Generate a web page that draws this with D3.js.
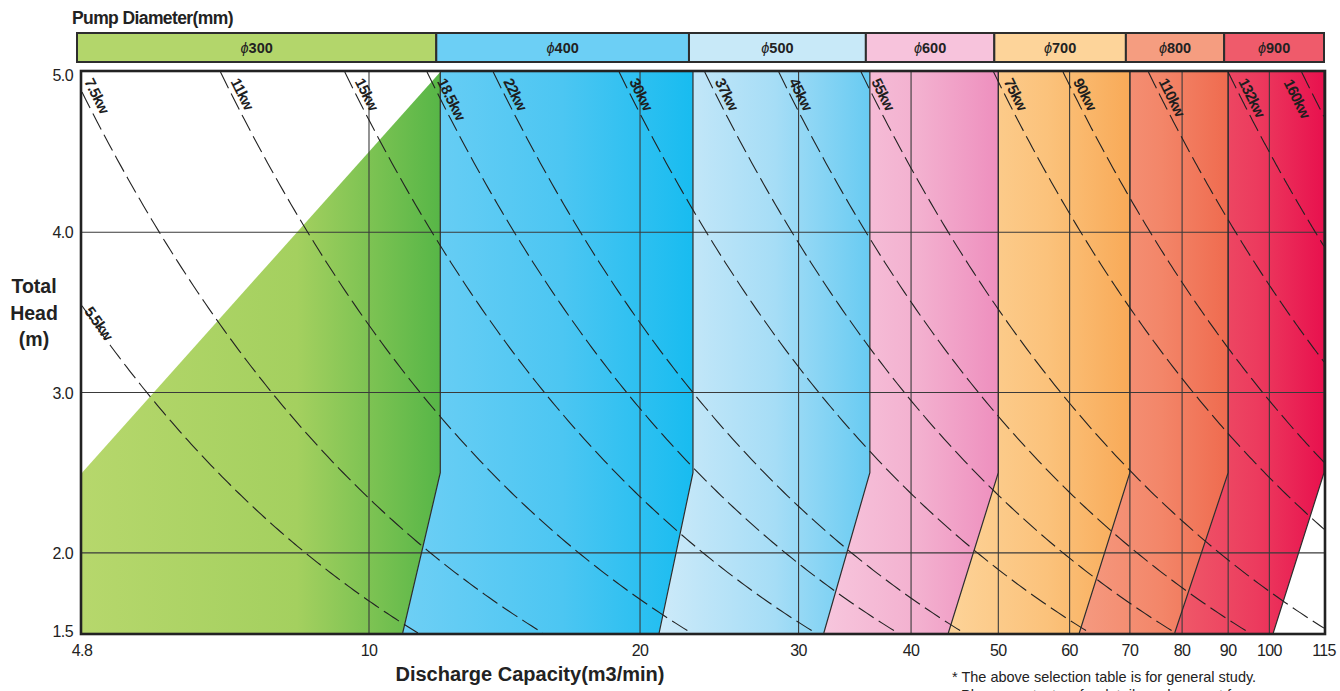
<!DOCTYPE html>
<html>
<head>
<meta charset="utf-8">
<script src="https://cdn.jsdelivr.net/npm/d3@7"></script>
<style>
  html, body { margin: 0; padding: 0; background: #fff; }
  svg { display: block; font-family: "Liberation Sans", Arial, Helvetica, sans-serif; }
</style>
</head>
<body>
<svg id="chart" width="1340" height="691"></svg>
<script>
// ---------------- DATA ----------------
const diameters = ["300", "400", "500", "600", "700", "800", "900"];
// right boundary of each pump range: capacity at head >= 2.5 m (top) and at 1.5 m (bottom)
const boundaryTop    = [12, 22.9, 36, 50, 70, 90, 115];
const boundaryBottom = [10.9, 21, 32, 44, 61.5, 78.5, 101];
const leftEdge = { q: 4.8, hLow: 1.5, hMid: 2.5 };
const kneeHead = 2.5;
const barColors = ["#b3d66b", "#6ccff5", "#c8e9f8", "#f7c3dc", "#fdd49a", "#f59d80", "#ef5b6b"];
const gradLeft  = ["#b6d76c", "#6ecff5", "#cdeaf9", "#f7c6dd", "#fdd398", "#f59a80", "#ef5a69"];
const gradMid   = ["#a4d05f", "#4cc6f2", "#a6ddf6", "#f3b0cf", "#fbc27b", "#f38669", "#ec3b5e"];
const gradRight = ["#57b647", "#18bcf0", "#68cbf2", "#ee8fbe", "#f8aa58", "#ef6b4f", "#e8114e"];
// power lines: label and constant Q*H (m3/min * m)
const powerLabels = ["5.5kw", "7.5kw", "11kw", "15kw", "18.5kw", "22kw", "30kw", "37kw", "45kw", "55kw", "75kw", "90kw", "110kw", "132kw", "160kw"];
const powerQH     = [17.0, 23.4, 34.2, 47.0, 58.0, 68.7, 94.8, 118, 142.6, 176, 247, 295, 367, 450, 543];
const xTicks = [4.8, 10, 20, 30, 40, 50, 60, 70, 80, 90, 100, 115];
const xTickLabels = ["4.8", "10", "20", "30", "40", "50", "60", "70", "80", "90", "100", "115"];
const xGrid = [10, 20, 30, 40, 50, 60, 70, 80, 90, 100];
const yTicks = [1.5, 2.0, 3.0, 4.0, 5.0];
const yTickLabels = ["1.5", "2.0", "3.0", "4.0", "5.0"];
const yGrid = [2, 3, 4];

// ---------------- SCALES ----------------
const svg = d3.select("#chart");
const x = d3.scaleLog().domain([4.8, 115]).range([82, 1324]);
const y = d3.scaleLinear().domain([1.5, 5]).range([633, 72]);
const [x0, x1] = x.range();
const [y1, y0] = y.range();

const defs = svg.append("defs");
defs.append("clipPath").attr("id", "plotClip")
  .append("rect").attr("x", x0).attr("y", y0).attr("width", x1 - x0).attr("height", y1 - y0);

diameters.forEach((d, i) => {
  const g = defs.append("linearGradient").attr("id", "grad" + i)
    .attr("x1", "0%").attr("x2", "100%").attr("y1", "0%").attr("y2", "0%");
  g.append("stop").attr("offset", "0%").attr("stop-color", gradLeft[i]);
  g.append("stop").attr("offset", i === 0 ? "60%" : "55%").attr("stop-color", gradMid[i]);
  g.append("stop").attr("offset", "100%").attr("stop-color", gradRight[i]);
});

// ---------------- REGIONS ----------------
const line = d3.line().x(p => x(p[0])).y(p => y(p[1]));
const regions = diameters.map((d, i) => {
  let left;
  if (i === 0) left = [[leftEdge.q, leftEdge.hLow], [leftEdge.q, leftEdge.hMid], [boundaryTop[0], 5]];
  else left = [[boundaryBottom[i - 1], 1.5], [boundaryTop[i - 1], kneeHead], [boundaryTop[i - 1], 5]];
  const right = [[boundaryTop[i], 5], [boundaryTop[i], kneeHead], [boundaryBottom[i], 1.5]];
  return left.concat(right);
});
const plot = svg.append("g").attr("clip-path", "url(#plotClip)");
plot.selectAll("path.region").data(regions).join("path")
  .attr("class", "region")
  .attr("d", p => line(p) + "Z")
  .attr("fill", (p, i) => `url(#grad${i})`);

// grid
plot.selectAll("line.vg").data(xGrid).join("line")
  .attr("x1", d => x(d)).attr("x2", d => x(d)).attr("y1", y0).attr("y2", y1)
  .attr("stroke", "#3a3a3a").attr("stroke-width", 1.1);
plot.selectAll("line.hg").data(yGrid).join("line")
  .attr("x1", x0).attr("x2", x1).attr("y1", d => y(d)).attr("y2", d => y(d))
  .attr("stroke", "#3a3a3a").attr("stroke-width", 1.1);

// boundaries
plot.selectAll("path.bnd").data(diameters).join("path")
  .attr("d", (d, i) => line([[boundaryTop[i], 5], [boundaryTop[i], kneeHead], [boundaryBottom[i], 1.5]]))
  .attr("fill", "none").attr("stroke", "#2d2d2d").attr("stroke-width", 1.2);

// power curves
const curves = powerQH.map(c => {
  const qStart = Math.max(4.8, c / 5), qEnd = Math.min(115, c / 1.5);
  const pts = d3.range(0, 121).map(k => {
    const q = qStart * Math.pow(qEnd / qStart, k / 120);
    return [q, c / q];
  });
  return pts;
});
plot.selectAll("path.pw").data(curves).join("path")
  .attr("d", line).attr("fill", "none")
  .attr("stroke", "#222").attr("stroke-width", 1.1)
  .attr("stroke-dasharray", "18,6");

// labels
powerQH.forEach((c, i) => {
  let px, py;
  const hLeft = c / 4.8;
  if (hLeft < 4.5) {
    px = x0 + 1; py = y(hLeft) + 6;
  } else {
    py = y0 + 10;
    const hh = y.invert(py);
    px = Math.max(x0 + 1, x(c / hh) + 4);
  }
  const h = y.invert(py);
  const qa = c / h;
  const dxp = x(qa * 1.02) - x(qa), dyp = y(c / (qa * 1.02)) - y(h);
  const ang = Math.atan2(dyp, dxp) * 180 / Math.PI;
  // labels that would run past the right border sit on the left side of their line
  const leftSide = x(qa) > x1 - 40;
  plot.append("text")
    .attr("transform", `translate(${leftSide ? px - 4 : px},${py}) rotate(${ang})`)
    .attr("x", leftSide ? -10 : 0).attr("y", leftSide ? 21 : -1)
    .attr("font-size", 15).attr("font-weight", "bold").attr("fill", "#1e1e1e")
    .attr("letter-spacing", -0.8)
    .text(powerLabels[i]);
});

// plot border
svg.append("rect").attr("x", x0 - 1).attr("y", y0 - 1).attr("width", x1 - x0 + 2).attr("height", y1 - y0 + 2)
  .attr("fill", "none").attr("stroke", "#222").attr("stroke-width", 2.6);

// ---------------- TOP BAR ----------------
const barEdges = [x0 - 5].concat(boundaryTop.map((b, i) => i === boundaryTop.length - 1 ? x(b) : x(b) - 4));
const barG = svg.append("g");
barG.selectAll("rect").data(diameters).join("rect")
  .attr("x", (d, i) => barEdges[i]).attr("y", 33)
  .attr("width", (d, i) => barEdges[i + 1] - barEdges[i]).attr("height", 29)
  .attr("fill", (d, i) => barColors[i]).attr("stroke", "#2d2d2d").attr("stroke-width", 2);
barG.selectAll("text").data(diameters).join("text")
  .attr("x", (d, i) => (barEdges[i] + barEdges[i + 1]) / 2).attr("y", 53)
  .attr("text-anchor", "middle").attr("font-size", 14.5).attr("fill", "#222")
  .attr("font-weight", "bold")
  .each(function (d) {
    const t = d3.select(this);
    t.append("tspan").attr("font-style", "italic").attr("font-weight", "normal").text("ϕ");
    t.append("tspan").text(d);
  });
svg.append("text").attr("x", 72).attr("y", 24)
  .attr("font-size", 17.5).attr("font-weight", "bold").attr("fill", "#222")
  .attr("letter-spacing", -0.6)
  .text("Pump Diameter(mm)");

// ---------------- AXES ----------------
const xAxis = svg.append("g");
xAxis.selectAll("text").data(xTicks).join("text")
  .attr("x", d => x(d)).attr("y", 656).attr("text-anchor", "middle")
  .attr("font-size", 16).attr("fill", "#222").attr("letter-spacing", -0.6)
  .text((d, i) => xTickLabels[i]);
const yAxis = svg.append("g");
yAxis.selectAll("text").data(yTicks).join("text")
  .attr("x", 73).attr("y", d => y(d) + 6 + (d === 5 ? 3 : 0) - (d === 1.5 ? 2 : 0)).attr("text-anchor", "end")
  .attr("font-size", 16).attr("fill", "#222").attr("letter-spacing", -0.6)
  .text((d, i) => yTickLabels[i]);

svg.append("text").attr("x", 530).attr("y", 681).attr("text-anchor", "middle")
  .attr("font-size", 20).attr("font-weight", "bold").attr("fill", "#222")
  .text("Discharge Capacity(m3/min)");
const yt = svg.append("text").attr("text-anchor", "middle")
  .attr("font-size", 19.5).attr("font-weight", "bold").attr("fill", "#222");
[["Total", 293], ["Head", 320], ["(m)", 346]].forEach(([t, yy]) => {
  yt.append("tspan").attr("x", 34).attr("y", yy).text(t);
});

// footnote
svg.append("text").attr("x", 952).attr("y", 682)
  .attr("font-size", 14.5).attr("fill", "#222")
  .text("* The above selection table is for general study.");
svg.append("text").attr("x", 961).attr("y", 700)
  .attr("font-size", 14.5).attr("fill", "#222")
  .text("Please contact us for details and support for");
</script>
</body>
</html>
